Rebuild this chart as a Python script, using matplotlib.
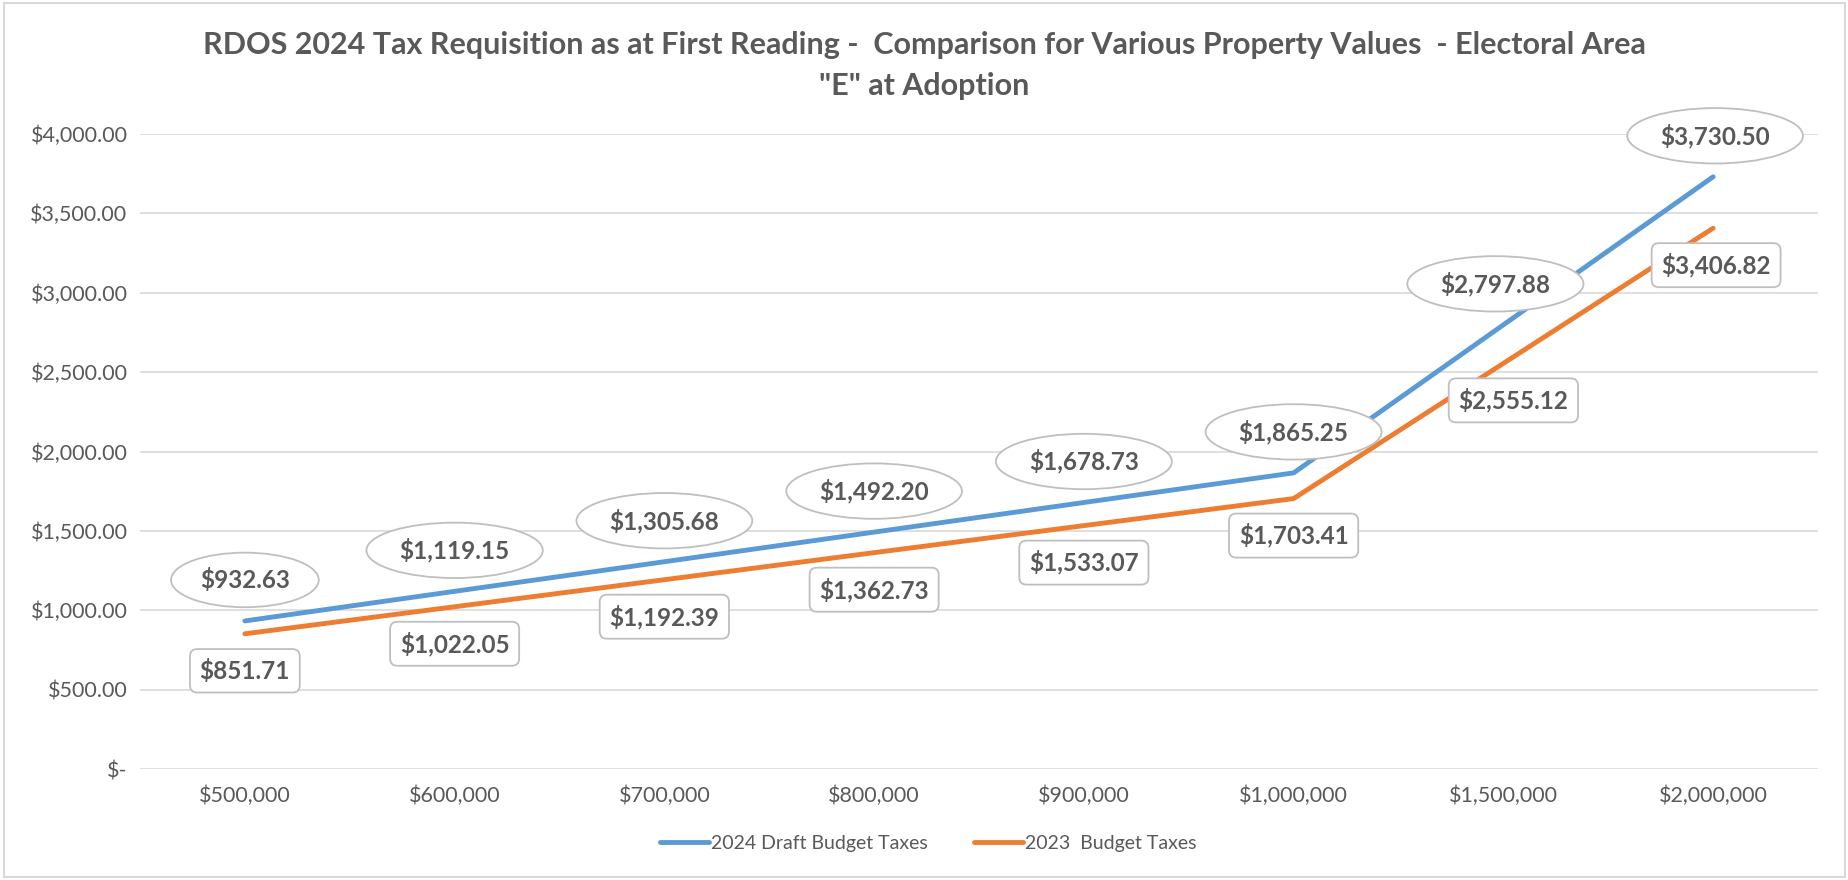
import numpy as np
import matplotlib.pyplot as plt
from matplotlib.patches import Rectangle
from matplotlib.ticker import FuncFormatter

# data
categories = ["$500,000", "$600,000", "$700,000", "$800,000", "$900,000",
              "$1,000,000", "$1,500,000", "$2,000,000"]
taxes_2024 = [932.63, 1119.15, 1305.68, 1492.20, 1678.73, 1865.25, 2797.88, 3730.50]
taxes_2023 = [851.71, 1022.05, 1192.39, 1362.73, 1533.07, 1703.41, 2555.12, 3406.82]
series_names = ["2024 Draft Budget Taxes", "2023  Budget Taxes"]
title_lines = ["RDOS 2024 Tax Requisition as at First Reading -  Comparison for Various Property Values  - Electoral Area",
               "\"E\" at Adoption"]

BLUE = "#5B9BD5"
ORANGE = "#ED7D31"
GREY_TXT = "#595959"
GRID = "#D9D9D9"

plt.rcParams['font.family'] = ['Lato', 'DejaVu Sans']

fig = plt.figure(figsize=(18.49, 8.80), dpi=100)
ax = fig.add_axes([140 / 1849, 1 - 769 / 880, (1818 - 140) / 1849, (769 - 134) / 880])

# chart border
fig.patches.append(Rectangle((0.002, 0.003), 0.996, 0.994, transform=fig.transFigure,
                             fill=False, ec=GRID, lw=1.5))

x = np.arange(len(categories))
ax.plot(x, taxes_2024, color=BLUE, lw=3.5, solid_capstyle='round', label=series_names[0], zorder=3)
ax.plot(x, taxes_2023, color=ORANGE, lw=3.5, solid_capstyle='round', label=series_names[1], zorder=3)

ax.set_xlim(-0.5, len(categories) - 0.5)
ax.set_ylim(0, 4000)
ax.set_yticks(np.arange(0, 4001, 500))
ax.yaxis.set_major_formatter(FuncFormatter(lambda v, p: "$-" if v == 0 else f"${v:,.2f}"))
ax.set_xticks(x)
ax.set_xticklabels(categories)
ax.tick_params(axis='both', length=0, labelsize=15.5, colors=GREY_TXT)
ax.tick_params(axis='y', pad=9)
ax.tick_params(axis='x', pad=12)
ax.grid(axis='y', color=GRID, lw=1.2)
ax.set_axisbelow(True)
for s in ax.spines.values():
    s.set_visible(False)

# data labels
shift_blue = [0, 0, 0, 0, 0, 0, -8, 2]
shift_orange = [0, 0, 0, 0, 0, 0, 10, 3]
for i in range(len(categories)):
    ax.annotate(f"${taxes_2024[i]:,.2f}", (x[i], taxes_2024[i]), xytext=(shift_blue[i], 41),
                textcoords='offset pixels', ha='center', va='center', fontsize=17.5,
                fontweight='bold', color=GREY_TXT, zorder=5,
                bbox=dict(boxstyle='ellipse,pad=0.3', fc='white', ec='#BFBFBF', lw=1.3))
    ax.annotate(f"${taxes_2023[i]:,.2f}", (x[i], taxes_2023[i]), xytext=(shift_orange[i], -37),
                textcoords='offset pixels', ha='center', va='center', fontsize=17.5,
                fontweight='bold', color=GREY_TXT, zorder=5,
                bbox=dict(boxstyle='round,pad=0.4,rounding_size=0.3', fc='white', ec='#BFBFBF', lw=1.3))

fig.text(0.5, 1 - 45 / 880, title_lines[0], ha='center', va='center', fontsize=22,
         fontweight='bold', color=GREY_TXT)
fig.text(0.5, 1 - 86 / 880, title_lines[1], ha='center', va='center', fontsize=22,
         fontweight='bold', color=GREY_TXT)

leg = fig.legend(loc='center', bbox_to_anchor=(928 / 1849, 1 - 843 / 880), ncol=2, frameon=False,
                 fontsize=14, handlelength=2.5, handletextpad=0.1, columnspacing=2.4)
for t in leg.get_texts():
    t.set_color(GREY_TXT)

fig.savefig("out.png", dpi=100)
